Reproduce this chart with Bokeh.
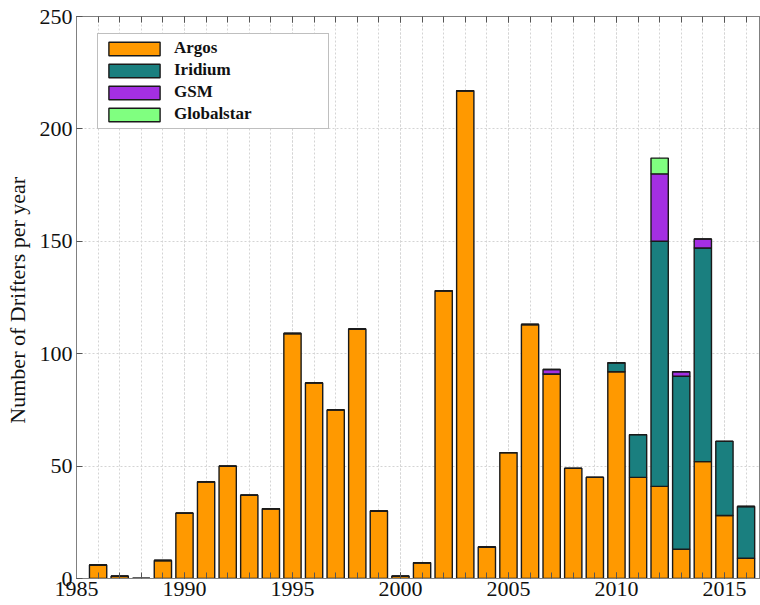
from bokeh.plotting import figure
from bokeh.models import Range1d, LinearAxis, SingleIntervalTicker, FixedTicker, ColumnDataSource
from bokeh.embed import file_html
from bokeh.resources import INLINE

years = list(range(1986, 2017))
argos = [6, 1, 0, 8, 29, 43, 50, 37, 31, 109, 87, 75, 111, 30, 1, 7, 128, 217, 14, 56,
         113, 91, 49, 45, 92, 45, 41, 13, 52, 28, 9]
iridium = [0]*24 + [4, 19, 109, 77, 95, 33, 23]
gsm = [0]*21 + [2, 0, 0, 0, 0, 30, 2, 4, 0, 0]
globalstar = [0]*26 + [7, 0, 0, 0, 0]
series = ["Argos", "Iridium", "GSM", "Globalstar"]
colors = ["#ff9900", "#1a7f7f", "#a42fe3", "#80ff80"]
y_ticks = [0, 50, 100, 150, 200, 250]

src = ColumnDataSource(dict(year=years, Argos=argos, Iridium=iridium, GSM=gsm, Globalstar=globalstar))

FONT = "Liberation Serif"
p = figure(width=760, height=605, output_backend="svg", toolbar_location=None,
           x_range=Range1d(1985, 2016.67), y_range=Range1d(0, 250),
           min_border_left=76, min_border_right=0, min_border_top=16, min_border_bottom=27)

p.vbar_stack(series, x="year", width=0.8, source=src, fill_color=colors,
             line_color="#1a1a1a", line_width=1.4, legend_label=series)

xt = SingleIntervalTicker(interval=5, num_minor_ticks=5)
yt = FixedTicker(ticks=y_ticks)
p.xaxis.ticker = xt
p.yaxis.ticker = yt
p.xgrid.ticker = xt
p.ygrid.ticker = yt

for ax in p.xaxis + p.yaxis:
    ax.axis_line_color = "#808080"
    ax.major_tick_line_color = "#555555"
    ax.minor_tick_line_color = "#555555"
    ax.major_tick_in = 6
    ax.major_tick_out = 0
    ax.minor_tick_in = 6
    ax.minor_tick_out = 0
    ax.major_label_text_font = FONT
    ax.major_label_text_font_size = "22px"
    ax.major_label_text_color = "#111111"
    ax.major_label_standoff = 3
p.yaxis.minor_tick_line_color = None
p.yaxis.major_label_standoff = 4

p.yaxis.axis_label = "Number of  Drifters per year"
p.yaxis.axis_label_text_font = FONT
p.yaxis.axis_label_text_font_size = "22px"
p.yaxis.axis_label_text_font_style = "normal"
p.yaxis.axis_label_text_color = "#111111"
p.yaxis.axis_label_standoff = 7

top = LinearAxis(ticker=xt, axis_line_color="#808080",
                 major_tick_in=6, major_tick_out=0, minor_tick_in=6, minor_tick_out=0,
                 major_tick_line_color="#555555", minor_tick_line_color="#555555",
                 major_label_standoff=0, major_label_text_font_size="1px",
                 major_label_overrides={y: "" for y in range(1980, 2025, 5)})
p.add_layout(top, "above")

p.xgrid.grid_line_color = "#d4d4d4"
p.xgrid.grid_line_dash = "2 2"
p.xgrid.minor_grid_line_color = "#d4d4d4"
p.xgrid.minor_grid_line_dash = "2 2"
p.ygrid.grid_line_color = "#d4d4d4"
p.ygrid.grid_line_dash = "2 2"
p.outline_line_color = "#808080"

lg = p.legend[0]
lg.location = (21, 449)
lg.margin = 0
lg.padding = 4
lg.spacing = 2
lg.glyph_width = 64
lg.glyph_height = 17
lg.label_height = 17
lg.label_width = 150
lg.label_standoff = 8
lg.label_text_font = FONT
lg.label_text_font_style = "bold"
lg.label_text_font_size = "17px"
lg.label_text_color = "#111111"
lg.border_line_color = "#808080"
lg.border_line_width = 1
lg.background_fill_alpha = 1

open("out.html", "w").write(file_html(p, INLINE))
